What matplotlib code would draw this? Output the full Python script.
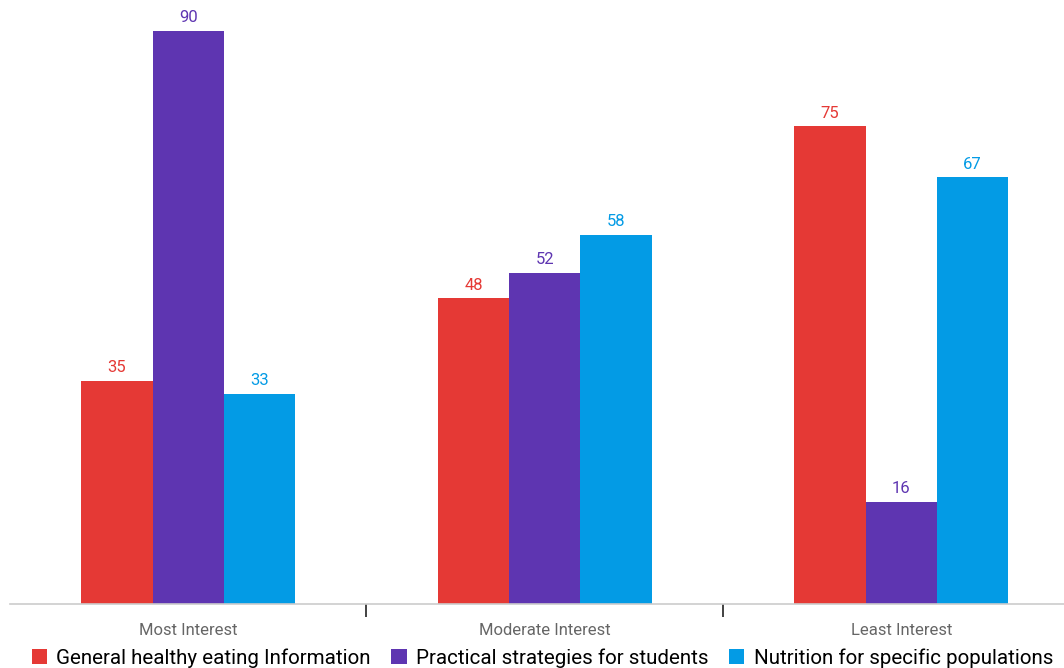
import matplotlib
matplotlib.use('Agg')
import matplotlib.pyplot as plt
import numpy as np

plt.rcParams['font.family'] = ['Roboto', 'DejaVu Sans']

categories = ['Most Interest', 'Moderate Interest', 'Least Interest']
series_names = ['General healthy eating Information', 'Practical strategies for students',
                'Nutrition for specific populations']
general = [35, 48, 75]
practical = [90, 52, 16]
nutrition = [33, 58, 67]
colors = ['#E53935', '#5E35B1', '#039BE5']

fig = plt.figure(figsize=(10.64, 6.68), dpi=100)
ax = fig.add_axes([10 / 1064, 64 / 668, 1 - 10 / 1064, 604 / 668])

x = np.arange(len(categories))
w = 0.2
for i, (vals, name, c) in enumerate(zip([general, practical, nutrition], series_names, colors)):
    bars = ax.bar(x + (i - 1) * w, vals, w, color=c, label=name)
    for b, v in zip(bars, vals):
        ax.text(b.get_x() + b.get_width() / 2, v + 0.9, str(v), ha='center', va='bottom',
                color=c, fontsize=12)

ax.set_xlim(-0.5, 2 + 163 / 357)
ax.set_ylim(0, 604 / 6.367)
ax.set_yticks([])
for s in ['top', 'right', 'left']:
    ax.spines[s].set_visible(False)
ax.spines['bottom'].set_color('#cccccc')
ax.spines['bottom'].set_linewidth(1.2)

ax.set_xticks(x)
ax.set_xticklabels(categories, color='#666666', fontsize=12)
ax.tick_params(axis='x', which='major', length=0, pad=14)
ax.set_xticks([0.5, 1.5], minor=True)
ax.tick_params(axis='x', which='minor', length=9, width=1.2, color='#222222')

ax.legend(loc='center', bbox_to_anchor=(0.505, -0.089), ncol=3, frameon=False,
          fontsize=14.8, handlelength=0.75, handleheight=0.75, handletextpad=0.45, columnspacing=1.0,
          borderaxespad=0, borderpad=0)

fig.savefig('out.png', dpi=100)
